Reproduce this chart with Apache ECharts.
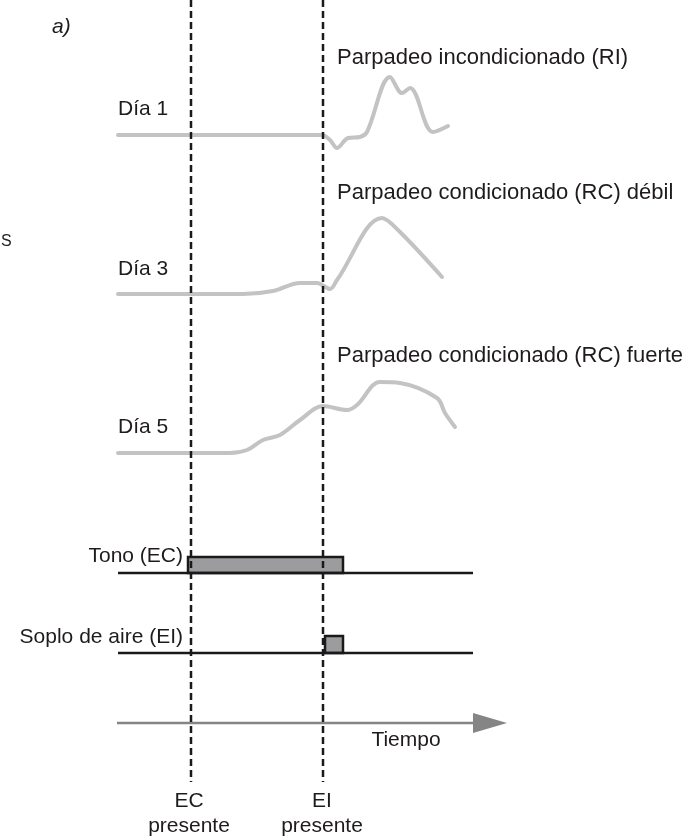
<!DOCTYPE html>
<html>
<head>
<meta charset="utf-8">
<script src="https://cdn.jsdelivr.net/npm/echarts@6/dist/echarts.min.js"></script>
<style>
  html, body { margin: 0; padding: 0; background: #fff; }
  #chart { width: 697px; height: 840px; }
</style>
</head>
<body>
<div id="chart"></div>
<script>
// traces, in drawing units (x = time, y = downwards)
var dia1 = [[118,135],[322,135],[330,140],[337,148],[348,138],[360,137],[367,132],[390,77],[402,93],[410,88],[433,132],[448,126]];
var dia3 = [[118,294],[243,294],[273,291],[300,283],[317,283],[330,289],[337,280],[382,218],[400,232],[442,277]];
var dia5 = [[118,453],[230,453],[247,450],[263,440],[280,435],[300,420],[323,406],[347,410],[357,405],[380,382],[400,383],[437,398],[445,413],[455,427]];

// stimuli: [start, end, baseline, top]
var tono = [188, 343, 573, 557];
var soplo = [325, 343, 653, 636];
var lineaInicio = 118, lineaFin = 473;

// moments marked with dashed lines
var ecPresente = 191, eiPresente = 323;
var tiempo = [117, 507, 723];

// text, x, y, align, style, size
var etiquetas = [
    ['a)', 52, 27, 'left', 'italic', 21],
    ['S', 1, 242, 'left', 'normal', 16],
    ['Parpadeo incondicionado (RI)', 337, 57.5, 'left', 'normal', 22],
    ['Día 1', 118, 109.5, 'left', 'normal', 21],
    ['Parpadeo condicionado (RC) débil', 337, 192.5, 'left', 'normal', 22],
    ['Día 3', 118, 269.5, 'left', 'normal', 21],
    ['Parpadeo condicionado (RC) fuerte', 337, 355.5, 'left', 'normal', 22],
    ['Día 5', 118, 427.5, 'left', 'normal', 21],
    ['Tono (EC)', 183, 556.5, 'right', 'normal', 21],
    ['Soplo de aire (EI)', 183, 637.5, 'right', 'normal', 21],
    ['Tiempo', 406, 740.5, 'center', 'normal', 21],
    ['EC', 189, 801.5, 'center', 'normal', 21],
    ['presente', 189, 826, 'center', 'normal', 21],
    ['EI', 322, 801.5, 'center', 'normal', 21],
    ['presente', 322, 826, 'center', 'normal', 21]
];

var chart = echarts.init(document.getElementById('chart'));

function curva(data) {
    return {
        type: 'line', data: data, smooth: 0.35, symbol: 'none', silent: true,
        lineStyle: { color: '#c3c3c5', width: 4, cap: 'round', join: 'round' }
    };
}
function recta(data, color, width, dash) {
    return {
        type: 'line', data: data, symbol: 'none', silent: true,
        lineStyle: { color: color, width: width, type: dash || 'solid' }
    };
}

var option = {
    animation: false,
    grid: { left: 0, right: 0, top: 0, bottom: 0 },
    xAxis: { type: 'value', min: 0, max: 697, show: false },
    yAxis: { type: 'value', min: 0, max: 840, inverse: true, show: false },
    graphic: etiquetas.map(function (e) {
        return {
            type: 'text', x: e[1], y: e[2], silent: true,
            style: {
                text: e[0], fill: '#1f1b1c', align: e[3], verticalAlign: 'middle',
                font: e[4] + ' ' + e[5] + 'px "Liberation Sans", Arial, sans-serif'
            }
        };
    }),
    series: [
        curva(dia1),
        curva(dia3),
        curva(dia5),
        recta([[lineaInicio, tono[2]], [lineaFin, tono[2]]], '#1a1a1a', 2.5),
        recta([[lineaInicio, soplo[2]], [lineaFin, soplo[2]]], '#1a1a1a', 2.5),
        recta([[tiempo[0], tiempo[2]], [tiempo[1] - 30, tiempo[2]]], '#858585', 2.5),
        {
            type: 'custom', silent: true,
            data: [tono, soplo],
            renderItem: function (params, api) {
                var a = api.coord([api.value(0), api.value(3)]);
                var b = api.coord([api.value(1), api.value(2)]);
                return {
                    type: 'rect',
                    shape: { x: a[0], y: a[1], width: b[0] - a[0], height: b[1] - a[1] },
                    style: { fill: '#9c9c9e', stroke: '#1a1a1a', lineWidth: 2.5 }
                };
            }
        },
        {
            type: 'custom', silent: true,
            data: [tiempo],
            renderItem: function (params, api) {
                var x1 = api.value(1), y = api.value(2);
                var p1 = api.coord([x1 - 34, y - 10]);
                var p2 = api.coord([x1, y]);
                var p3 = api.coord([x1 - 34, y + 10]);
                return { type: 'polygon', shape: { points: [p1, p2, p3] }, style: { fill: '#858585' } };
            }
        },
        recta([[ecPresente, 0], [ecPresente, 782]], '#1a1a1a', 2.5, [7, 4]),
        recta([[eiPresente, 0], [eiPresente, 782]], '#1a1a1a', 2.5, [7, 4])
    ]
};
chart.setOption(option);
</script>
</body>
</html>
